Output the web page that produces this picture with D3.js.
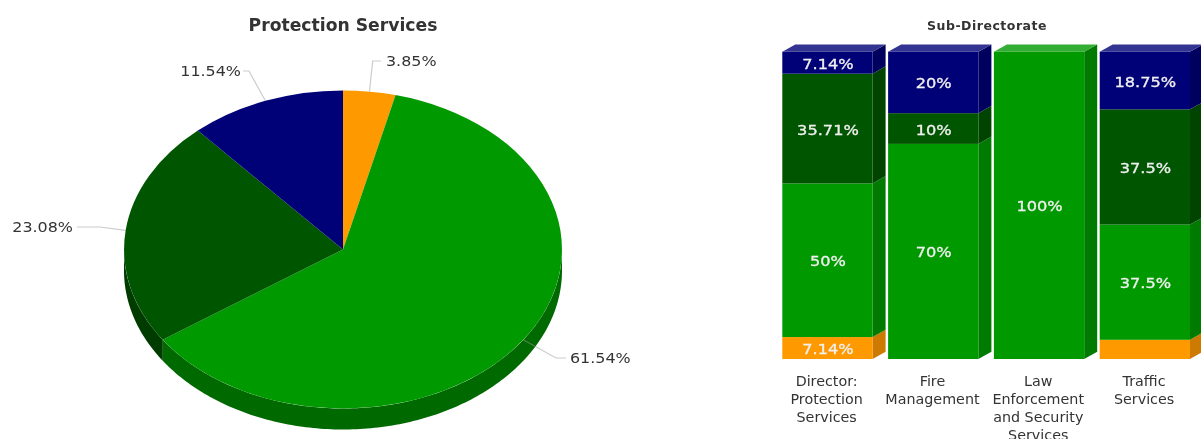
<!DOCTYPE html>
<html><head><meta charset="utf-8">
<script src="https://cdn.jsdelivr.net/npm/d3@7/dist/d3.min.js"></script>
<style>html,body{margin:0;padding:0;background:#fff;overflow:hidden}svg{display:block;filter:blur(0.4px)}</style>
</head><body><svg id="c" width="1201" height="439"></svg>
<script>
// ---- data ----
const pieTitle = "Protection Services";
const pieLabels = ["3.85%","61.54%","23.08%","11.54%"];
const pieValues = [3.85,61.54,23.08,11.54];
const barTitle = "Sub-Directorate";
const categories = [["Director:","Protection","Services"],["Fire","Management"],["Law","Enforcement","and Security","Services"],["Traffic","Services"]];
const seriesNames = ["orange","green","darkgreen","navy"];
const orangeValues = [7.14,0,0,6.25];
const greenValues = [50,70,100,37.5];
const darkGreenValues = [35.71,10,0,37.5];
const navyValues = [7.14,20,0,18.75];
const hiddenLabels = ["orange|3"];
// ---- styles / layout ----
const front = {orange:"#ff9900",green:"#009900",darkgreen:"#005500",navy:"#000077"};
const side = {orange:"#cc7a00",green:"#007a00",darkgreen:"#004400",navy:"#00005f"};
const topc = {orange:"#ffad33",green:"#33ad33",darkgreen:"#337733",navy:"#333392"};
const pieColors = ["#ff9900","#009900","#005500","#000077"];
const wallColors = ["#cc7a00","#006a00","#003c00","#00005f"];
const svg = d3.select("#c");
const font = "'DejaVu Sans',Verdana,sans-serif";
function label(px0,py0,sx,txt,anchor,size,fill){
  return svg.append("text").attr("transform",`translate(${px0},${py0}) scale(${sx},1)`)
    .attr("text-anchor",anchor).attr("font-family",font).attr("font-size",size).attr("fill",fill).text(txt);
}

// ---- pie ----
const cx=343, cy=249.5, rx=219, ry=159, depth=21;
const arcs = d3.pie().sort(null).value(d=>d)(pieValues);
const px = a=>cx+rx*Math.sin(a), py = a=>cy-ry*Math.cos(a);
const sliceG = svg.append("g");
arcs.forEach((d,i)=>{
  const a0=Math.max(d.startAngle,Math.PI/2), a1=Math.min(d.endAngle,Math.PI*1.5);
  if(a1<=a0) return;
  const n=Math.ceil((a1-a0)*60), pts=d3.range(n+1).map(k=>a0+(a1-a0)*k/n);
  const poly=pts.map(a=>[px(a),py(a)]).concat(pts.slice().reverse().map(a=>[px(a),py(a)+depth]));
  sliceG.append("path").attr("d",d3.line()(poly)+"Z").attr("fill",wallColors[i]);
});
const arcGen=d3.arc().innerRadius(0).outerRadius(1);
const pieTop=svg.append("g").attr("transform",`translate(${cx},${cy}) scale(${rx},${ry})`);
pieTop.selectAll("path").data(arcs).join("path").attr("d",arcGen).attr("fill",(d,i)=>pieColors[i]);

const leaders=[
 {ex:372.7,ey:61,hx:381,tx:386,ty:66,anchor:"start"},
 {ex:556,ey:358,hx:566,tx:570,ty:363,anchor:"start"},
 {ex:100,ey:227,hx:77,tx:73,ty:232,anchor:"end"},
 {ex:249,ey:71,hx:243,tx:241,ty:76,anchor:"end"}];
arcs.forEach((d,i)=>{
  const m=(d.startAngle+d.endAngle)/2, L=leaders[i];
  svg.append("path").attr("d",d3.line()([[px(m),py(m)],[L.ex,L.ey],[L.hx,L.ey]]))
    .attr("fill","none").attr("stroke","#999").attr("stroke-opacity",0.5).attr("stroke-width",1.2);
  label(L.tx,L.ty,1.18,pieLabels[i],L.anchor,13.5,"#333");
});
svg.append("text").attr("x",343).attr("y",31).attr("text-anchor","middle").attr("font-family",font)
  .attr("font-weight","bold").attr("font-size",17.2).attr("fill","#333").text(pieTitle);

// ---- stacked bars ----
const rows=categories.map((c,i)=>({i,orange:orangeValues[i],green:greenValues[i],darkgreen:darkGreenValues[i],navy:navyValues[i]}));
const stacked=d3.stack().keys(seriesNames)(rows);
const x=d3.scaleBand().domain(d3.range(categories.length)).range([782.3,1190]).paddingInner(0.1465);
const y=d3.scaleLinear().domain([0,100]).range([359,51.7]);
const dx=13, dy=7.3, w=x.bandwidth();
const barG=svg.append("g");
stacked.forEach(s=>{
  s.forEach((d,j)=>{
    if(d[1]-d[0]<=0) return;
    const L=x(j), y0=y(d[0]), y1=y(d[1]);
    const line=d3.line();
    barG.append("path").attr("d",line([[L+w,y0],[L+w+dx,y0-dy],[L+w+dx,y1-dy],[L+w,y1]])+"Z").attr("fill",side[s.key]);
    barG.append("rect").attr("x",L).attr("y",y1).attr("width",w).attr("height",y0-y1).attr("fill",front[s.key]);
    if(d[1]>=99.99) barG.append("path").attr("d",line([[L,y1],[L+dx,y1-dy],[L+w+dx,y1-dy],[L+w,y1]])+"Z").attr("fill",topc[s.key]);
  });
});
stacked.forEach(s=>{
  s.forEach((d,j)=>{
    const v=d[1]-d[0];
    if(v<=0||hiddenLabels.includes(s.key+"|"+j)) return;
    label(x(j)+w/2+0.5,y((d[0]+d[1])/2)+6,1.2,+v.toFixed(2)+"%","middle",13.5,"#f0f0f0")
      .attr("stroke","#f0f0f0").attr("stroke-width",0.3);
  });
});
categories.forEach((lines,j)=>{
  lines.forEach((t,k)=>{
    label(x(j)+w/2-0.8,386+k*18,1.06,t,"middle",13.5,"#333");
  });
});
svg.append("text").attr("x",987).attr("y",30).attr("text-anchor","middle").attr("font-family",font)
  .attr("font-weight","bold").attr("font-size",12.5).attr("letter-spacing",0.5).attr("fill","#333").text(barTitle);
</script></body></html>
